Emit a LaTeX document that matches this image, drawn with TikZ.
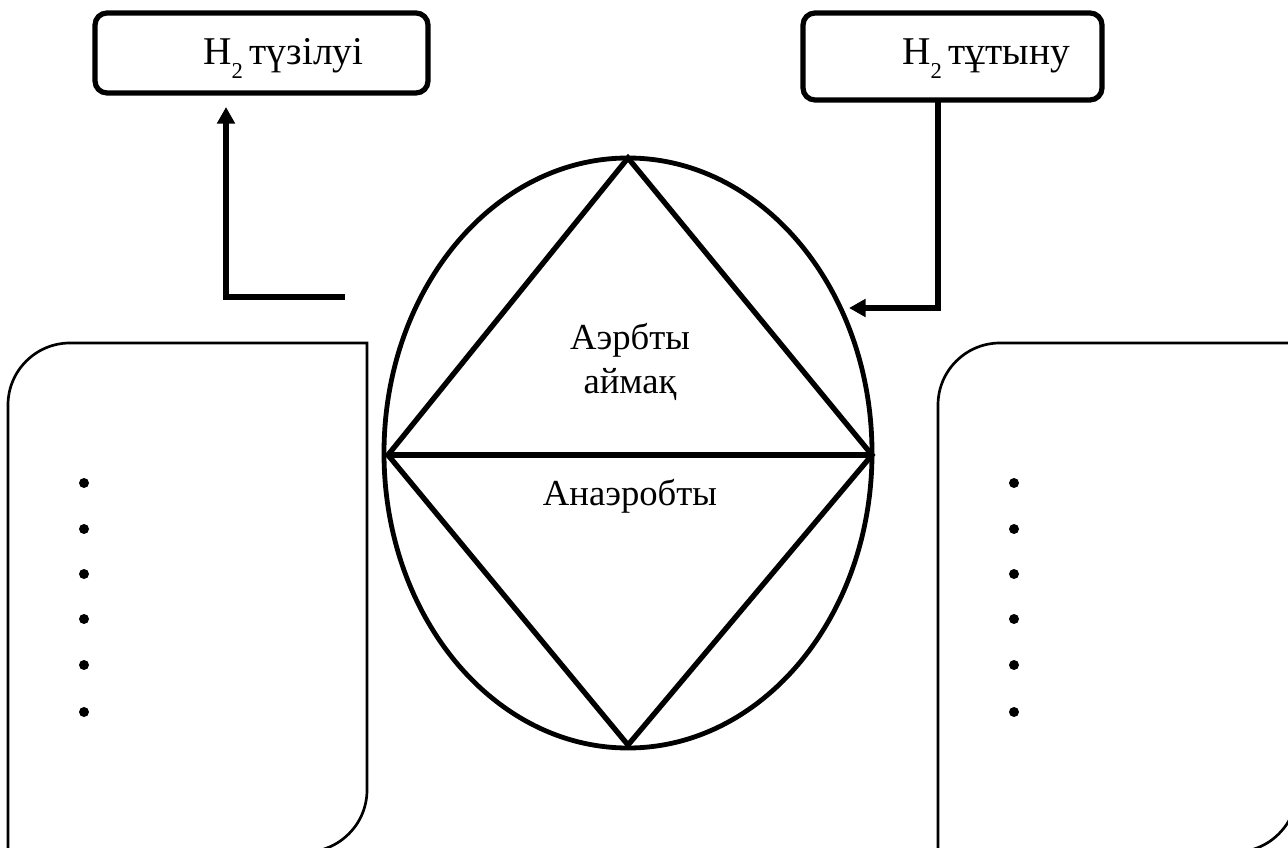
\documentclass[tikz,border=0pt]{standalone}
\usepackage{fontspec}
\setmainfont{Liberation Serif}
\usetikzlibrary{arrows.meta,shapes.geometric}
\tikzset{
  topbox/.style={draw, line width=3.9pt, rounded corners=9pt, inner sep=0pt},
  conn/.style={line width=4.5pt},
  arr/.style={conn, -{Triangle[length=12.5pt,width=13pt]}},
  ovalshape/.style={draw, ellipse, line width=3.6pt, inner sep=0pt},
  diam/.style={line width=4pt, line join=miter},
  sidebox/.style={line width=2pt},
  bul/.style={circle, fill, inner sep=0pt, minimum size=7.5pt},
  toptext/.style={font=\fontsize{29.5}{34}\selectfont, inner sep=0pt, anchor=base west},
  midtext/.style={font=\fontsize{27.5}{32}\selectfont, inner sep=0pt, anchor=base}
}
\newcommand{\subtwo}{\raisebox{-10pt}{\fontsize{17}{17}\selectfont 2}}
\begin{document}
\begin{tikzpicture}[x=0.75pt,y=-0.75pt]
\useasboundingbox (0,0) rectangle (1288,848);
\clip (0,0) rectangle (1288,848);

% top boxes
\node[topbox, minimum width=249.75pt, minimum height=60pt] (bform) at (261.5,53) {};
\node[toptext] (tform) at (203,65) {H\subtwo\hspace{5pt}түзілуі};
\node[topbox, minimum width=224.25pt, minimum height=65.25pt] (bcons) at (952.5,56.5) {};
\node[toptext] (tcons) at (902,65) {H\subtwo\hspace{5pt}тұтыну};

% ellipse and diamond
\node[ovalshape, minimum width=366pt, minimum height=442.5pt] (ell) at (628,453) {};
\coordinate (dt) at (628,158);
\coordinate (dl) at (388,455);
\coordinate (dr) at (872,455);
\coordinate (db) at (628,745);
\draw[diam] (dt) -- (dr) -- (db) -- (dl) -- cycle;
\draw[diam] (dl) -- (dr);

\node[midtext] (aer1) at (630,350) {Аэрбты};
\node[midtext] (aer2) at (630,393) {аймақ};
\node[midtext] (anaer) at (630,505) {Анаэробты};

% connectors
\coordinate (lstart) at (345,297);
\coordinate (lcorner) at (226,297);
\coordinate (ltip) at (226,107);
\draw[arr] (lstart) -- (lcorner) -- (ltip);

\coordinate (rstart) at (938,100);
\coordinate (rcorner) at (938,308);
\coordinate (rtip) at (849,308);
\draw[arr] (rstart) -- (rcorner) -- (rtip);

% side boxes
\draw[sidebox] (8,900) -- (8,405) arc[start angle=180,end angle=270,radius=62]
  -- (367,343) -- (367,790) arc[start angle=0,end angle=90,radius=62] -- (-10,852);
\draw[sidebox] (938,900) -- (938,405) arc[start angle=180,end angle=270,radius=62]
  -- (1297,343) -- (1297,790) arc[start angle=0,end angle=90,radius=62] -- (920,852);

% bullets
\foreach \i/\y in {1/483,2/529,3/574,4/619,5/665,6/712}{
  \node[bul] (lb\i) at (84,\y) {};
  \node[bul] (rb\i) at (1014,\y) {};
}
\end{tikzpicture}
\end{document}
